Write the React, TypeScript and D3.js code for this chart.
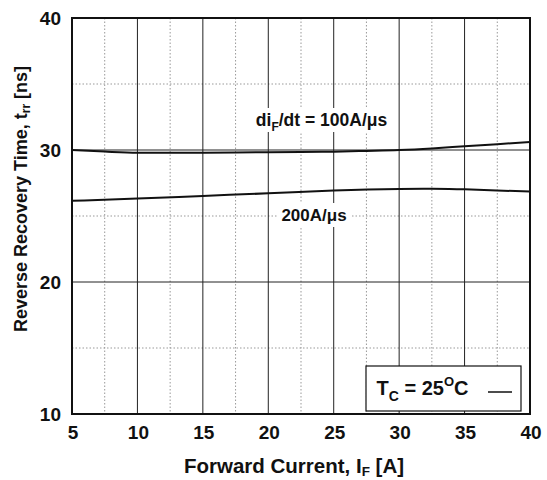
import React from "react";
import * as d3 from "d3";

const current100 = [5, 7.5, 10, 12.5, 15, 17.5, 20, 22.5, 25, 27.5, 30, 32.5, 35, 37.5, 40];
const trr100 = [30.0, 29.88, 29.8, 29.8, 29.8, 29.81, 29.83, 29.85, 29.87, 29.93, 30.0, 30.12, 30.28, 30.44, 30.6];
const current200 = [5, 10, 15, 20, 25, 30, 32.5, 35, 40];
const trr200 = [26.15, 26.32, 26.52, 26.72, 26.93, 27.05, 27.07, 27.02, 26.85];
const xTicks = [5, 10, 15, 20, 25, 30, 35, 40];
const xMinor = [7.5, 12.5, 17.5, 22.5, 27.5, 32.5, 37.5];
const yTicks = [10, 20, 30, 40];
const yMinor = [15, 25, 35];

const W = 547, H = 480;
const L = 72, R = 530, T = 18, B = 414;
const FONT = "'Liberation Sans', Arial, sans-serif";

export default function App() {
  const x = d3.scaleLinear().domain([5, 40]).range([L, R]);
  const y = d3.scaleLinear().domain([10, 40]).range([B, T]);
  const line = d3
    .line<[number, number]>()
    .x((d) => x(d[0]))
    .y((d) => y(d[1]))
    .curve(d3.curveMonotoneX);
  const d100 = line(current100.map((c, i) => [c, trr100[i]] as [number, number])) || "";
  const d200 = line(current200.map((c, i) => [c, trr200[i]] as [number, number])) || "";

  return (
    <svg width={W} height={H} style={{ position: "absolute", left: 0, top: 0, background: "#fff" }} fontFamily={FONT}>
      <rect x={0} y={0} width={W} height={H} fill="#fff" />
      {/* minor grid */}
      {xMinor.map((v) => (
        <line key={"xm" + v} x1={x(v)} x2={x(v)} y1={T} y2={B} stroke="#999" strokeWidth={1} strokeDasharray="1.5,2" />
      ))}
      {yMinor.map((v) => (
        <line key={"ym" + v} x1={L} x2={R} y1={y(v)} y2={y(v)} stroke="#999" strokeWidth={1} strokeDasharray="1.5,2" />
      ))}
      {/* major grid */}
      {xTicks.slice(1, -1).map((v) => (
        <line key={"xg" + v} x1={x(v)} x2={x(v)} y1={T} y2={B} stroke="#222" strokeWidth={1} />
      ))}
      {yTicks.slice(1, -1).map((v) => (
        <line key={"yg" + v} x1={L} x2={R} y1={y(v)} y2={y(v)} stroke="#222" strokeWidth={1} />
      ))}
      {/* curves */}
      <path d={d100} fill="none" stroke="#111" strokeWidth={2} />
      <path d={d200} fill="none" stroke="#111" strokeWidth={2} />
      {/* curve labels */}
      <rect x={250} y={108} width={144} height={24} fill="#fff" />
      <text x={321.5} y={126} fontSize={17.5} fontWeight="bold" textAnchor="middle" fill="#111">
        di<tspan fontSize={12} dy={5}>F</tspan>
        <tspan dy={-5}>/dt = 100A/μs</tspan>
      </text>
      <rect x={277} y={203} width={74} height={24} fill="#fff" />
      <text x={314} y={221} fontSize={17} fontWeight="bold" textAnchor="middle" fill="#111">
        200A/μs
      </text>
      {/* legend */}
      <rect x={366} y={366} width={155} height={45} fill="#fff" stroke="#111" strokeWidth={1.2} />
      <text x={376.5} y={395} fontSize={20} fontWeight="bold" fill="#111">
        T<tspan fontSize={14} dy={6}>C</tspan>
        <tspan dy={-6}> = 25</tspan>
        <tspan fontSize={13} dy={-9}>O</tspan>
        <tspan dy={9}>C</tspan>
      </text>
      <line x1={488} x2={512} y1={392} y2={392} stroke="#111" strokeWidth={1.5} />
      {/* frame */}
      <rect x={L} y={T} width={R - L} height={B - T} fill="none" stroke="#111" strokeWidth={2} />
      {/* tick labels */}
      {yTicks.map((v) => (
        <text key={"yl" + v} x={61} y={y(v) + 6.5} fontSize={19} fontWeight="bold" textAnchor="end" fill="#111">
          {v}
        </text>
      ))}
      {xTicks.map((v) => (
        <text key={"xl" + v} x={x(v) + 1} y={438.5} fontSize={19} fontWeight="bold" textAnchor="middle" fill="#111">
          {v}
        </text>
      ))}
      {/* axis titles */}
      <text x={294} y={473} fontSize={20.5} fontWeight="bold" textAnchor="middle" fill="#111">
        Forward Current, I<tspan fontSize={13.5} dy={3}>F</tspan>
        <tspan dy={-3}> [A]</tspan>
      </text>
      <text
        transform={`translate(27, ${199}) rotate(-90)`}
        fontSize={18}
        fontWeight="bold"
        textAnchor="middle"
        fill="#111"
      >
        Reverse Recovery Time, t<tspan fontSize={12} dy={3}>rr</tspan>
        <tspan dy={-3}> [ns]</tspan>
      </text>
    </svg>
  );
}
